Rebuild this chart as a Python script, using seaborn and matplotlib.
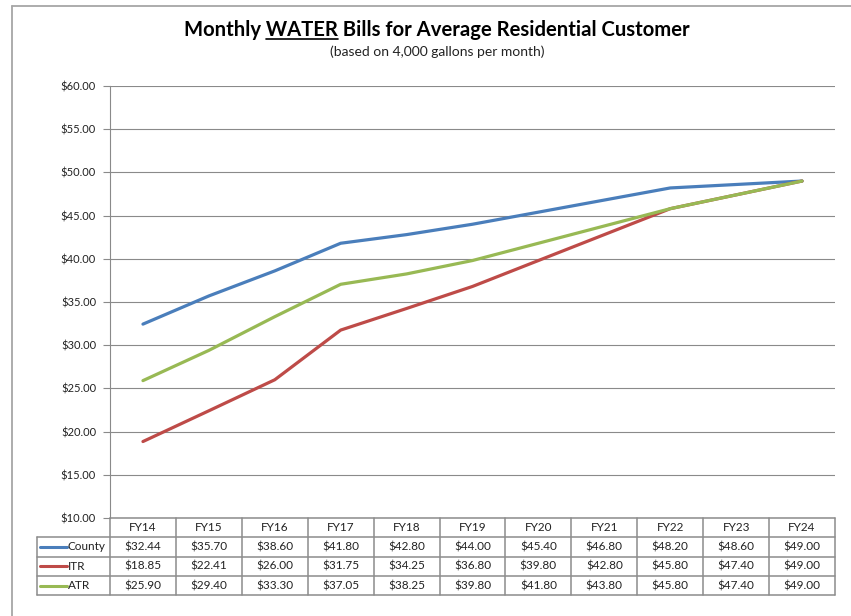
import numpy as np
import pandas as pd
import matplotlib.pyplot as plt
import seaborn as sns
from matplotlib.lines import Line2D
from matplotlib.ticker import FuncFormatter

years = ["FY14", "FY15", "FY16", "FY17", "FY18", "FY19", "FY20", "FY21", "FY22", "FY23", "FY24"]
county = [32.44, 35.70, 38.60, 41.80, 42.80, 44.00, 45.40, 46.80, 48.20, 48.60, 49.00]
itr = [18.85, 22.41, 26.00, 31.75, 34.25, 36.80, 39.80, 42.80, 45.80, 47.40, 49.00]
atr = [25.90, 29.40, 33.30, 37.05, 38.25, 39.80, 41.80, 43.80, 45.80, 47.40, 49.00]
series_names = ["County", "ITR", "ATR"]
colors = {"County": "#4a7ebb", "ITR": "#be4b48", "ATR": "#98b954"}

wide = pd.DataFrame({"Year": years, "County": county, "ITR": itr, "ATR": atr})
df = wide.melt(id_vars="Year", var_name="Series", value_name="Bill")
df["x"] = df["Year"].map({y: i for i, y in enumerate(years)})

sns.set_theme(style="white")
plt.rcParams["font.family"] = ["Lato", "DejaVu Sans"]

W, H = 851, 616
fig = plt.figure(figsize=(W / 100, H / 100), dpi=100)
ax = fig.add_axes([110 / W, 1 - 518 / H, 725 / W, 432 / H])

sns.lineplot(data=df, x="x", y="Bill", hue="Series", hue_order=series_names,
             palette=colors, linewidth=2.3, legend=False, sort=False, ax=ax)

ax.set_xlim(-0.5, len(years) - 0.5)
ax.set_ylim(10, 60)
ax.set_yticks(np.arange(10, 61, 5))
ax.yaxis.set_major_formatter(FuncFormatter(lambda v, p: f"${v:.2f}"))
ax.set_xticks([])
ax.set_xlabel("")
ax.set_ylabel("")
ax.grid(axis="y", color="#8a8a8a", linewidth=0.8)
for s in ["top", "right", "bottom"]:
    ax.spines[s].set_visible(False)
ax.spines["left"].set_color("#8a8a8a")
ax.spines["left"].set_linewidth(0.8)
ax.tick_params(axis="y", left=True, length=5, width=0.8, color="#8a8a8a",
               labelsize=8, pad=5, labelcolor="#222222")

# data table under the plot
gray = "#8c8c8c"
n = len(years)
rh = 19.3 / 432
leg_left = (37 - 110) / 725
tr = ax.transAxes
tkw = dict(transform=tr, clip_on=False, color=gray, linewidth=1.1)
fs = 8.5

ax.add_line(Line2D([0, 1], [0, 0], **tkw))
ax.add_line(Line2D([leg_left, 1], [-rh, -rh], **tkw))
for r in range(2, 5):
    ax.add_line(Line2D([leg_left, 1], [-r * rh, -r * rh], **tkw))
for i in range(n + 1):
    ax.add_line(Line2D([i / n, i / n], [0, -4 * rh], **tkw))
ax.add_line(Line2D([leg_left, leg_left], [-rh, -4 * rh], **tkw))

for i, y in enumerate(years):
    ax.text((i + 0.5) / n, -0.5 * rh, y, transform=tr, ha="center", va="center",
            fontsize=fs, color="#222222")

for r, name in enumerate(series_names, start=1):
    yc = -(r + 0.5) * rh
    vals = wide[name].tolist()
    for i, v in enumerate(vals):
        ax.text((i + 0.5) / n, yc, f"${v:.2f}", transform=tr, ha="center", va="center",
                fontsize=fs, color="#222222")
    ax.add_line(Line2D([(40 - 110) / 725, (67 - 110) / 725], [yc, yc], transform=tr,
                       clip_on=False, color=colors[name], linewidth=2.2))
    ax.text((68 - 110) / 725, yc, name, transform=tr, ha="left", va="center",
            fontsize=fs, color="#222222")

# titles
title = "Monthly WATER Bills for Average Residential Customer"
tprops = dict(fontsize=14.6, fontweight="bold", color="black")
t = fig.text(437 / W, 1 - 30 / H, title, ha="center", va="center", **tprops)
fig.text(437 / W, 1 - 52 / H, "(based on 4,000 gallons per month)",
         ha="center", va="center", fontsize=10, color="#222222")

fig.canvas.draw()
rend = fig.canvas.get_renderer()
bb = t.get_window_extent(rend)


def width_of(s):
    tmp = fig.text(0, 0, s, **tprops)
    w = tmp.get_window_extent(rend).width
    tmp.remove()
    return w


w_mw = width_of("Monthly WATER")
w_w = width_of("WATER")
x0 = bb.x0 + w_mw - w_w
x1 = bb.x0 + w_mw
yu = bb.y0 + 1
fig.add_artist(Line2D([x0 / W, x1 / W], [yu / H, yu / H], transform=fig.transFigure,
                      color="black", linewidth=1.2))

# outer frame
fkw = dict(transform=fig.transFigure, color="#a6a6a6", linewidth=1.3)
fig.add_artist(Line2D([12 / W, 1], [1 - 6 / H, 1 - 6 / H], **fkw))
fig.add_artist(Line2D([12 / W, 12 / W], [1 - 6 / H, 0], **fkw))

fig.savefig("out.png", dpi=100)
